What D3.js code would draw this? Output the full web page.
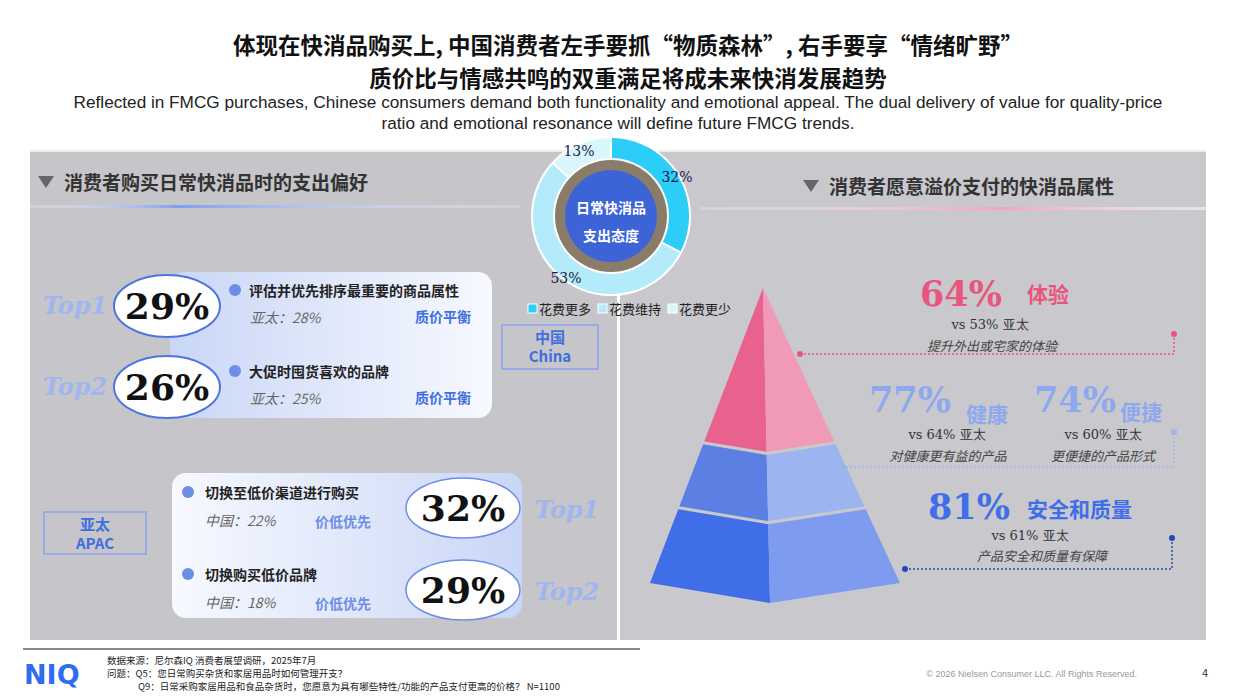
<!DOCTYPE html>
<html><head><meta charset="utf-8">
<script src="https://cdn.jsdelivr.net/npm/d3@7"></script>
<style>body{margin:0;background:#fff;font-family:"Noto Sans CJK SC","Noto Sans",sans-serif}</style>
</head><body><svg id="c" width="1240" height="697"></svg>
<script>
// donut data
const donutCats = ["花费更多", "花费维持", "花费更少"];
const donutVals = [32, 53, 13];
const donutColors = ["#2ccdf6", "#b4ebfb", "#d9f6fd"];
// left panel: China top picks
const chinaLabels = ["评估并优先排序最重要的商品属性", "大促时囤货喜欢的品牌"];
const chinaVals = [29, 26];
const chinaApac = [28, 25];
const chinaTags = ["质价平衡", "质价平衡"];
// APAC top picks
const apacLabels = ["切换至低价渠道进行购买", "切换购买低价品牌"];
const apacVals = [32, 29];
const apacChina = [22, 18];
const apacTags = ["价低优先", "价低优先"];
// pyramid attributes
const pyrNames = ["体验", "健康", "便捷", "安全和质量"];
const pyrVals = [64, 77, 74, 81];
const pyrApac = [53, 64, 60, 61];
const pyrDesc = ["提升外出或宅家的体验", "对健康更有益的产品", "更便捷的产品形式", "产品安全和质量有保障"];

const svg = d3.select("#c");
const serif = "'DejaVu Serif','Liberation Serif',serif";

// titles
svg.append("text").attr("x", 628).attr("y", 54).attr("text-anchor", "middle").attr("font-size", 22.5).attr("font-weight", 700).attr("fill", "#111")
  .text("体现在快消品购买上, 中国消费者左手要抓“物质森林”, 右手要享“情绪旷野”");
svg.append("text").attr("x", 628).attr("y", 87).attr("text-anchor", "middle").attr("font-size", 22.5).attr("font-weight", 700).attr("fill", "#111")
  .text("质价比与情感共鸣的双重满足将成未来快消发展趋势");
svg.append("text").attr("x", 618).attr("y", 108).attr("text-anchor", "middle").attr("font-size", 17.2).attr("font-family", "'Liberation Sans',Arial").attr("fill", "#222")
  .text("Reflected in FMCG purchases, Chinese consumers demand both functionality and emotional appeal. The dual delivery of value for quality-price");
svg.append("text").attr("x", 618).attr("y", 129).attr("text-anchor", "middle").attr("font-size", 17.2).attr("font-family", "'Liberation Sans',Arial").attr("fill", "#222")
  .text("ratio and emotional resonance will define future FMCG trends.");

// panels
svg.append("rect").attr("x", 30).attr("y", 150).attr("width", 587).attr("height", 490).attr("fill", "#c6c5c9");
svg.append("rect").attr("x", 620).attr("y", 150).attr("width", 586).attr("height", 490).attr("fill", "#c9c8cc");
svg.append("line").attr("x1", 30).attr("x2", 1206).attr("y1", 151).attr("y2", 151).attr("stroke", "#eee").attr("stroke-width", 2);

// section headings
function heading(x, y, t) {
  svg.append("path").attr("d", `M${x},${y - 12} l16,0 l-8,12 z`).attr("fill", "#666");
  svg.append("text").attr("x", x + 26).attr("y", y + 2).attr("font-size", 19).attr("font-weight", 700).attr("fill", "#333").text(t);
}
heading(38, 188, "消费者购买日常快消品时的支出偏好");
heading(803, 192, "消费者愿意溢价支付的快消品属性");
const defs = svg.append("defs");
const g1 = defs.append("linearGradient").attr("id", "lb");
g1.append("stop").attr("offset", 0).attr("stop-color", "#fff").attr("stop-opacity", 0.2);
g1.append("stop").attr("offset", 0.3).attr("stop-color", "#7da0f0");
g1.append("stop").attr("offset", 1).attr("stop-color", "#fff").attr("stop-opacity", 0.2);
svg.append("rect").attr("x", 30).attr("y", 205).attr("width", 490).attr("height", 3).attr("fill", "url(#lb)");
const g2 = defs.append("linearGradient").attr("id", "pb");
g2.append("stop").attr("offset", 0).attr("stop-color", "#fff").attr("stop-opacity", 0.2);
g2.append("stop").attr("offset", 0.6).attr("stop-color", "#f2a4c4");
g2.append("stop").attr("offset", 1).attr("stop-color", "#fff").attr("stop-opacity", 0.5);
svg.append("rect").attr("x", 700).attr("y", 207).attr("width", 506).attr("height", 3).attr("fill", "url(#pb)");

// card gradients
const cg = defs.append("linearGradient").attr("id", "card");
cg.append("stop").attr("offset", 0).attr("stop-color", "#c9d6f6");
cg.append("stop").attr("offset", 1).attr("stop-color", "#f7f9ff");
const cg2 = defs.append("linearGradient").attr("id", "card2");
cg2.append("stop").attr("offset", 0).attr("stop-color", "#f7f9ff");
cg2.append("stop").attr("offset", 1).attr("stop-color", "#c9d6f6");

const topStyle = s => s.attr("font-size", 24).attr("font-weight", 700).attr("font-style", "italic").attr("font-family", "'Comic Sans MS','DejaVu Serif',cursive").attr("fill", "#9fb6ef");

// China block
svg.append("rect").attr("x", 170).attr("y", 272).attr("width", 322).attr("height", 146).attr("rx", 14).attr("fill", "url(#card)");
const yC = d3.scalePoint().domain(d3.range(chinaVals.length)).range([306, 387]);
chinaVals.forEach((v, i) => {
  const y = yC(i);
  topStyle(svg.append("text").attr("x", 75).attr("y", y + 8).attr("text-anchor", "middle")).text("Top" + (i + 1));
  svg.append("ellipse").attr("cx", 167).attr("cy", y).attr("rx", 53).attr("ry", 31).attr("fill", "#fff").attr("stroke", "#4d74e0").attr("stroke-width", 2);
  svg.append("text").attr("x", 167).attr("y", y + 13).attr("text-anchor", "middle").attr("font-size", 36).attr("font-weight", 700).attr("font-family", serif).attr("fill", "#111").text(v + "%");
  svg.append("circle").attr("cx", 235).attr("cy", y - 16).attr("r", 6).attr("fill", "#6d8ee6");
  svg.append("text").attr("x", 249).attr("y", y - 10).attr("font-size", 14).attr("font-weight", 700).attr("fill", "#222").text(chinaLabels[i]);
  svg.append("text").attr("x", 250).attr("y", y + 17).attr("font-size", 14).attr("font-style", "italic").attr("fill", "#666").text(`亚太：${chinaApac[i]}%`);
  svg.append("text").attr("x", 415).attr("y", y + 16).attr("font-size", 14).attr("font-weight", 700).attr("fill", "#3f6fe0").text(chinaTags[i]);
});
// APAC block
svg.append("rect").attr("x", 172).attr("y", 473).attr("width", 350).attr("height", 145).attr("rx", 14).attr("fill", "url(#card2)");
const yA = d3.scalePoint().domain(d3.range(apacVals.length)).range([508, 590]);
apacVals.forEach((v, i) => {
  const y = yA(i);
  svg.append("circle").attr("cx", 188).attr("cy", y - 16).attr("r", 6).attr("fill", "#6d8ee6");
  svg.append("text").attr("x", 205).attr("y", y - 10).attr("font-size", 14).attr("font-weight", 700).attr("fill", "#222").text(apacLabels[i]);
  svg.append("text").attr("x", 205).attr("y", y + 18).attr("font-size", 14).attr("font-style", "italic").attr("fill", "#666").text(`中国：${apacChina[i]}%`);
  svg.append("text").attr("x", 315).attr("y", y + 19).attr("font-size", 14).attr("font-weight", 700).attr("fill", "#6d8ee6").text(apacTags[i]);
  svg.append("ellipse").attr("cx", 463).attr("cy", y).attr("rx", 57).attr("ry", 30).attr("fill", "#fff").attr("stroke", "#6d8ee6").attr("stroke-width", 1.5);
  svg.append("text").attr("x", 463).attr("y", y + 13).attr("text-anchor", "middle").attr("font-size", 36).attr("font-weight", 700).attr("font-family", serif).attr("fill", "#111").text(v + "%");
  topStyle(svg.append("text").attr("x", 567).attr("y", y + 10).attr("text-anchor", "middle")).text("Top" + (i + 1));
});
// region boxes
function regionBox(x, y, w, h, l1, l2) {
  svg.append("rect").attr("x", x).attr("y", y).attr("width", w).attr("height", h).attr("fill", "none").attr("stroke", "#8aa2ee").attr("stroke-width", 1.5);
  svg.append("text").attr("x", x + w / 2).attr("y", y + 18).attr("text-anchor", "middle").attr("font-size", 15).attr("font-weight", 700).attr("fill", "#3f6fe0").text(l1);
  svg.append("text").attr("x", x + w / 2).attr("y", y + 37).attr("text-anchor", "middle").attr("font-size", 15).attr("font-weight", 700).attr("fill", "#3f6fe0").text(l2);
}
regionBox(502, 325, 96, 44, "中国", "China");
regionBox(44, 512, 102, 42, "亚太", "APAC");

// donut
const dc = [611, 216];
const pie = d3.pie().sort(null).value(d => d)(donutVals);
const arc = d3.arc().innerRadius(58).outerRadius(78).padAngle(0.02);
const dg = svg.append("g").attr("transform", `translate(${dc})`);
dg.append("circle").attr("r", 80).attr("fill", "#fff");
dg.selectAll("path.s").data(pie).join("path").attr("d", arc).attr("fill", (d, i) => donutColors[i]);
dg.append("circle").attr("r", 56).attr("fill", "#8a7c68");
dg.append("circle").attr("r", 46).attr("fill", "#3d64d6");
dg.append("text").attr("y", -3).attr("text-anchor", "middle").attr("font-size", 14).attr("font-weight", 700).attr("fill", "#fff").text("日常快消品");
dg.append("text").attr("y", 25).attr("text-anchor", "middle").attr("font-size", 14).attr("font-weight", 700).attr("fill", "#fff").text("支出态度");
const lblPos = [[66, -34], [-45, 67], [-32, -60]];
pie.forEach((d, i) => {
  dg.append("text").attr("x", lblPos[i][0]).attr("y", lblPos[i][1]).attr("text-anchor", "middle").attr("font-size", 14).attr("font-family", serif).attr("fill", "#1a1a4a").text(donutVals[i] + "%");
});
const lx = d3.scalePoint().domain(donutCats).range([528, 668]);
donutCats.forEach((c, i) => {
  svg.append("rect").attr("x", lx(c)).attr("y", 304).attr("width", 9).attr("height", 9).attr("fill", donutColors[i]).attr("stroke", "#fff");
  svg.append("text").attr("x", lx(c) + 11).attr("y", 314).attr("font-size", 13).attr("fill", "#222").text(c);
});

// pyramid
const apex = [763, 288], bl = [650, 583], bc = [770, 603], br = [900, 583];
const lerp = (a, b, k) => [a[0] + (b[0] - a[0]) * k, a[1] + (b[1] - a[1]) * k];
const tiers = [[0, 0.52, "#e9628e", "#f09ab7"], [0.53, 0.74, "#5b7fe3", "#9cb4ef"], [0.75, 1, "#3f6ee8", "#7d9cf0"]];
tiers.forEach(([a, b, cl, cr]) => {
  const pts = k => [lerp(apex, bl, k), lerp(apex, bc, k), lerp(apex, br, k)];
  const p0 = pts(a), p1 = pts(b);
  svg.append("path").attr("d", d3.line()([p0[0], p0[1], p1[1], p1[0]]) + "Z").attr("fill", cl);
  svg.append("path").attr("d", d3.line()([p0[1], p0[2], p1[2], p1[1]]) + "Z").attr("fill", cr);
});

// pyramid labels
const pinks = "#e8567f", blues = "#3f6ee8";
function attr(x, y, i, col, nameX, nameDy) {
  svg.append("text").attr("x", x).attr("y", y).attr("text-anchor", "middle").attr("font-size", 35).attr("font-weight", 700).attr("font-family", serif).attr("fill", col).text(pyrVals[i] + "%");
  svg.append("text").attr("x", nameX).attr("y", y + nameDy).attr("font-size", 21).attr("font-weight", 700).attr("fill", col).text(pyrNames[i]);
}
attr(961, 306, 0, pinks, 1027, -4);
svg.append("text").attr("x", 990).attr("y", 329).attr("text-anchor", "middle").attr("font-size", 13).attr("font-family", serif).attr("fill", "#333").text(`vs ${pyrApac[0]}% 亚太`);
svg.append("text").attr("x", 992).attr("y", 351).attr("text-anchor", "middle").attr("font-size", 13).attr("font-style", "italic").attr("fill", "#444").text(pyrDesc[0]);
svg.append("path").attr("d", "M800,354 L1174,354 L1174,335").attr("fill", "none").attr("stroke", pinks).attr("stroke-dasharray", "2,2").attr("stroke-width", 1.5);
svg.append("circle").attr("cx", 800).attr("cy", 354).attr("r", 3).attr("fill", pinks);
svg.append("circle").attr("cx", 1174).attr("cy", 334).attr("r", 3).attr("fill", pinks);

attr(910, 412, 1, "#8ea8ef", 966, 10);
svg.append("text").attr("x", 947).attr("y", 439).attr("text-anchor", "middle").attr("font-size", 13).attr("font-family", serif).attr("fill", "#333").text(`vs ${pyrApac[1]}% 亚太`);
svg.append("text").attr("x", 948).attr("y", 461).attr("text-anchor", "middle").attr("font-size", 13).attr("font-style", "italic").attr("fill", "#444").text(pyrDesc[1]);
attr(1075, 412, 2, "#8ea8ef", 1120, 8);
svg.append("text").attr("x", 1103).attr("y", 439).attr("text-anchor", "middle").attr("font-size", 13).attr("font-family", serif).attr("fill", "#333").text(`vs ${pyrApac[2]}% 亚太`);
svg.append("text").attr("x", 1103).attr("y", 461).attr("text-anchor", "middle").attr("font-size", 13).attr("font-style", "italic").attr("fill", "#444").text(pyrDesc[2]);
svg.append("path").attr("d", "M830,467 L1174,467 L1174,432").attr("fill", "none").attr("stroke", "#9cb4ef").attr("stroke-dasharray", "2,2").attr("stroke-width", 1.5);
svg.append("circle").attr("cx", 1174).attr("cy", 432).attr("r", 3).attr("fill", "#9cb4ef");

attr(969, 519, 3, blues, 1027, -2);
svg.append("text").attr("x", 1030).attr("y", 540).attr("text-anchor", "middle").attr("font-size", 13).attr("font-family", serif).attr("fill", "#333").text(`vs ${pyrApac[3]}% 亚太`);
svg.append("text").attr("x", 1042).attr("y", 561).attr("text-anchor", "middle").attr("font-size", 13).attr("font-style", "italic").attr("fill", "#444").text(pyrDesc[3]);
svg.append("path").attr("d", "M905,569 L1172,569 L1172,540").attr("fill", "none").attr("stroke", "#2348b8").attr("stroke-dasharray", "2,2").attr("stroke-width", 1.5);
svg.append("circle").attr("cx", 905).attr("cy", 569).attr("r", 3).attr("fill", "#2348b8");
svg.append("circle").attr("cx", 1172).attr("cy", 538).attr("r", 3).attr("fill", "#2348b8");

// footer
svg.append("line").attr("x1", 23).attr("x2", 640).attr("y1", 649).attr("y2", 649).attr("stroke", "#888").attr("stroke-width", 2);
svg.append("text").attr("x", 24).attr("y", 684).attr("font-size", 27).attr("font-weight", 900).attr("font-family", "'DejaVu Sans',sans-serif").attr("fill", "#2f6df0").text("NIQ");
const foot = [["数据来源：尼尔森IQ 消费者展望调研，2025年7月", 107], ["问题：Q5：您日常购买杂货和家居用品时如何管理开支？", 107], ["Q9：日常采购家居用品和食品杂货时，您愿意为具有哪些特性/功能的产品支付更高的价格？ N=1100", 138]];
foot.forEach((f, i) => svg.append("text").attr("x", f[1]).attr("y", 664 + i * 13).attr("font-size", 9.5).attr("fill", "#222").text(f[0]));
svg.append("text").attr("x", 1137).attr("y", 677).attr("text-anchor", "end").attr("font-size", 9).attr("font-family", "'Liberation Sans',Arial").attr("fill", "#999").text("© 2026 Nielsen Consumer LLC. All Rights Reserved.");
svg.append("text").attr("x", 1208).attr("y", 677).attr("text-anchor", "end").attr("font-size", 11).attr("fill", "#333").text("4");
</script></body></html>
